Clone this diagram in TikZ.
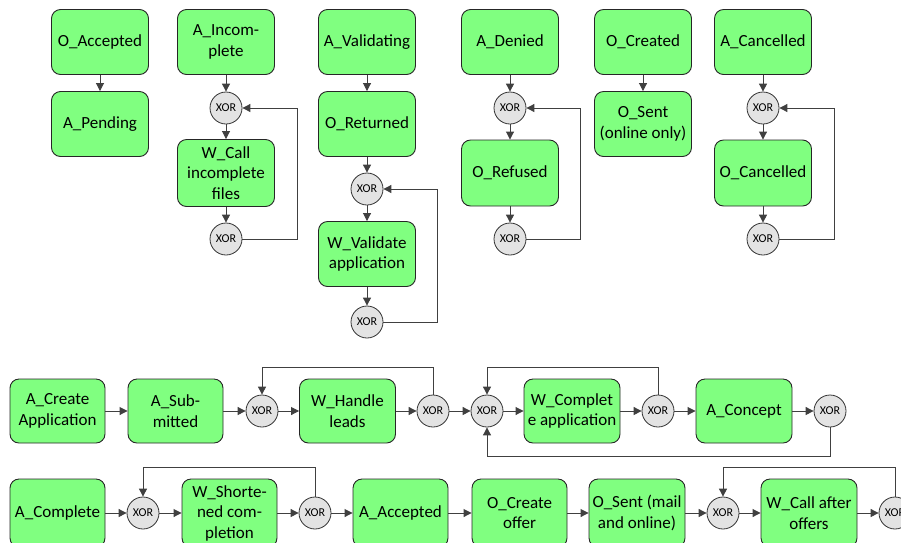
\documentclass[tikz,border=0pt]{standalone}
\usepackage{fontspec}
\setmainfont{Carlito}
\usetikzlibrary{arrows.meta}
\definecolor{boxgreen}{HTML}{80FF80}
\definecolor{xorgray}{HTML}{E3E3E3}
\definecolor{linegray}{HTML}{404040}
\tikzset{
  act/.style={draw=black!85, line width=0.9pt, rounded corners=9pt, fill=boxgreen,
    minimum width=97pt, minimum height=65pt, align=center, inner sep=1pt,
    font=\fontsize{17}{20.5}\selectfont},
  gate/.style={draw=black!80, line width=0.8pt, circle, fill=xorgray,
    minimum size=32pt, inner sep=0pt, font=\fontsize{12}{14}\selectfont},
  flow/.style={draw=linegray, line width=0.9pt, -{Triangle[length=8pt,width=8pt]}},
}
\begin{document}
\begin{tikzpicture}[x=1pt,y=-1pt]
\useasboundingbox (0,0) rectangle (901,542);
% ---- top: column 1
\node[act] (oacc) at (100,42) {O\_Accepted};
\node[act] (apend) at (100,124) {A\_Pending};
\draw[flow] (oacc) -- (apend);
% column 2
\node[act] (ainc) at (226,42) {A\_Incom-\\plete};
\node[gate] (x1a) at (226,108) {XOR};
\node[act, minimum height=67pt] (wcall) at (226,173) {W\_Call\\incomplete\\files};
\node[gate] (x1b) at (226,239) {XOR};
\draw[flow] (ainc) -- (x1a);
\draw[flow] (x1a) -- (wcall);
\draw[flow] (wcall) -- (x1b);
\draw[flow] (x1b.east) -- (297,239) -- (297,108) -- (x1a.east);
% column 3
\node[act] (aval) at (367,42) {A\_Validating};
\node[act] (oret) at (367,124) {O\_Returned};
\node[gate] (x2a) at (367,189) {XOR};
\node[act] (wval) at (367,254) {W\_Validate\\application};
\node[gate] (x2b) at (367,322) {XOR};
\draw[flow] (aval) -- (oret);
\draw[flow] (oret) -- (x2a);
\draw[flow] (x2a) -- (wval);
\draw[flow] (wval) -- (x2b);
\draw[flow] (x2b.east) -- (437,322) -- (437,189) -- (x2a.east);
% column 4
\node[act] (aden) at (510,42) {A\_Denied};
\node[gate] (x3a) at (510,108) {XOR};
\node[act, minimum height=66pt] (oref) at (510,173) {O\_Refused};
\node[gate] (x3b) at (510,239) {XOR};
\draw[flow] (aden) -- (x3a);
\draw[flow] (x3a) -- (oref);
\draw[flow] (oref) -- (x3b);
\draw[flow] (x3b.east) -- (580,239) -- (580,108) -- (x3a.east);
% column 5
\node[act] (ocre) at (643,42) {O\_Created};
\node[act] (osent) at (643,124) {O\_Sent\\(online only)};
\draw[flow] (ocre) -- (osent);
% column 6
\node[act] (acan) at (763,42) {A\_Cancelled};
\node[gate] (x4a) at (763,108) {XOR};
\node[act, minimum height=66pt] (ocan) at (763,173) {O\_Cancelled};
\node[gate] (x4b) at (763,239) {XOR};
\draw[flow] (acan) -- (x4a);
\draw[flow] (x4a) -- (ocan);
\draw[flow] (ocan) -- (x4b);
\draw[flow] (x4b.east) -- (834,239) -- (834,108) -- (x4a.east);
% ---- bottom row 1
\node[act, minimum width=95pt, minimum height=64pt] (acrt) at (57.5,411) {A\_Create\\Application};
\node[act, minimum width=95pt, minimum height=64pt] (asub) at (175.5,411) {A\_Sub-\\mitted};
\node[gate] (g1) at (262,411) {XOR};
\node[act, minimum width=96pt, minimum height=64pt] (whl) at (347.5,411) {W\_Handle\\leads};
\node[gate] (g2) at (433,411) {XOR};
\node[gate] (g3) at (487,411) {XOR};
\node[act, minimum width=96pt, minimum height=64pt] (wcomp) at (572,411) {W\_Complet\\e application};
\node[gate] (g4) at (658,411) {XOR};
\node[act, minimum width=96pt, minimum height=64pt] (acon) at (744,411) {A\_Concept};
\node[gate] (g5) at (830,411) {XOR};
\draw[flow] (acrt) -- (asub);
\draw[flow] (asub) -- (g1);
\draw[flow] (g1) -- (whl);
\draw[flow] (whl) -- (g2);
\draw[flow] (g2) -- (g3);
\draw[flow] (g3) -- (wcomp);
\draw[flow] (wcomp) -- (g4);
\draw[flow] (g4) -- (acon);
\draw[flow] (acon) -- (g5);
\draw[flow] (g2.north) -- (433,367) -- (262,367) -- (g1.north);
\draw[flow] (g4.north) -- (658,367) -- (487,367) -- (g3.north);
\draw[flow] (g5.south) -- (830,456) -- (487,456) -- (g3.south);
% ---- bottom row 2
\node[act, minimum width=95pt, minimum height=68pt] (acpl) at (57.5,513) {A\_Complete};
\node[gate] (h1) at (143,513) {XOR};
\node[act, minimum width=95pt, minimum height=68pt] (wsh) at (229.5,513) {W\_Shorte-\\ned com-\\pletion};
\node[gate] (h2) at (315,513) {XOR};
\node[act, minimum width=95pt, minimum height=68pt] (aacc) at (400.5,513) {A\_Accepted};
\node[act, minimum width=95pt, minimum height=68pt] (ocof) at (519.5,513) {O\_Create\\offer};
\node[act, minimum width=96pt, minimum height=68pt] (osml) at (637,513) {O\_Sent (mail\\and online)};
\node[gate] (h3) at (723,513) {XOR};
\node[act, minimum width=96pt, minimum height=68pt] (wcao) at (809,513) {W\_Call after\\offers};
\node[gate] (h4) at (895,513) {XOR};
\draw[flow] (acpl) -- (h1);
\draw[flow] (h1) -- (wsh);
\draw[flow] (wsh) -- (h2);
\draw[flow] (h2) -- (aacc);
\draw[flow] (aacc) -- (ocof);
\draw[flow] (ocof) -- (osml);
\draw[flow] (osml) -- (h3);
\draw[flow] (h3) -- (wcao);
\draw[flow] (wcao) -- (h4);
\draw[flow] (h2.north) -- (315,467) -- (143,467) -- (h1.north);
\draw[flow] (h4.north) -- (895,467) -- (723,467) -- (h3.north);
\end{tikzpicture}
\end{document}
